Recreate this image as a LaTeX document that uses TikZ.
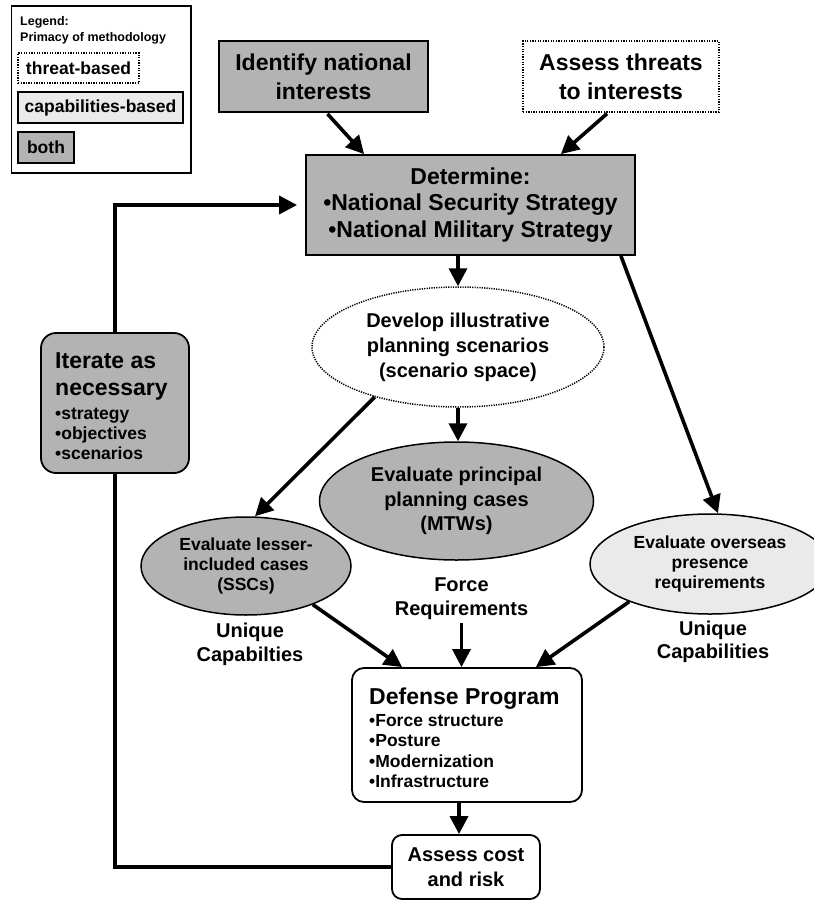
\documentclass[tikz,border=0pt]{standalone}
\usepackage{fontspec}
\setmainfont{Liberation Sans}
\usetikzlibrary{shapes.geometric,arrows.meta,calc}
\definecolor{gfill}{HTML}{B3B3B3}
\definecolor{lfill}{HTML}{EAEAEA}
\begin{document}
\begin{tikzpicture}[x=1pt,y=-1pt,
  fA/.style={font=\fontsize{23}{28}\selectfont\bfseries},
  fM/.style={font=\fontsize{20}{24.5}\selectfont\bfseries},
  fB/.style={font=\fontsize{17.5}{20}\selectfont\bfseries},
  fS/.style={font=\fontsize{12.5}{15}\selectfont\bfseries},
  box/.style={draw, line width=1.8pt, inner sep=0pt, align=center},
  gbox/.style={box, fill=gfill},
  lbox/.style={box, fill=lfill},
  dotbox/.style={draw, line width=1.3pt, dash pattern=on 1.3pt off 1.3pt, fill=white, inner sep=0pt, align=center},
  rbox/.style={box, fill=white, rounded corners=12pt},
  ell/.style={ellipse, draw, line width=1.5pt, inner sep=0pt, align=center},
  arr/.style={line width=3.6pt, -{Triangle[length=18pt,width=18pt]}},
  loopline/.style={line width=3.6pt}
]
\useasboundingbox (0,0) rectangle (814,900);
\fill[white] (0,0) rectangle (814,900);

% legend
\node[draw, line width=1.8pt, minimum width=179.5, minimum height=167, anchor=north west, inner sep=0pt] (leg) at (10.5,5) {};
\node[fS, anchor=base west, inner sep=0pt] (lg1) at (20,25.5) {Legend:};
\node[fS, anchor=base west, inner sep=0pt] (lg2) at (20,41.5) {Primacy of methodology};
\node[dotbox, fB, minimum width=121, minimum height=30] (lgt) at (78.5,68) {threat-based};
\node[lbox, fB, minimum width=165, minimum height=31] (lgc) at (100.5,107.5) {capabilities-based};
\node[gbox, fB, minimum width=56, minimum height=31] (lgb) at (46,147.5) {both};

% top boxes
\node[gbox, fA, font=\fontsize{23}{29}\selectfont\bfseries, minimum width=209, minimum height=71] (idn) at (323.5,76.5) {Identify national\\interests};
\node[dotbox, font=\fontsize{23}{29}\selectfont\bfseries, minimum width=196, minimum height=71] (thr) at (621,76.5) {Assess threats\\to interests};
\node[gbox, font=\fontsize{23}{26.5}\selectfont\bfseries, minimum width=329, minimum height=100] (det) at (470.5,205) {Determine:\\•National Security Strategy\\•National Military Strategy};

% ellipses
\node[ell, dash pattern=on 1.2pt off 1.2pt, fill=white, fM, font=\fontsize{20}{25}\selectfont\bfseries, minimum width=292, minimum height=120] (scen) at (458,347) {Develop illustrative\\planning scenarios\\(scenario space)};
\node[ell, fill=gfill, fM, minimum width=274, minimum height=118] (prin) at (456.5,501) {Evaluate principal\\planning cases\\(MTWs)};
\node[ell, fill=gfill, fB, minimum width=210, minimum height=98] (ssc) at (246,566) {Evaluate lesser-\\included cases\\(SSCs)};
\node[ell, fill=lfill, fB, minimum width=240, minimum height=100] (ovs) at (710,564) {Evaluate overseas\\presence\\requirements};

% labels
\node[fM, align=center, font=\fontsize{20}{24}\selectfont\bfseries, inner sep=3pt] (force) at (461.5,599) {Force\\Requirements};
\node[fM, align=center, font=\fontsize{20}{23.5}\selectfont\bfseries] (uq1) at (250,644.5) {Unique\\Capabilties};
\node[fM, align=center, font=\fontsize{20}{23.5}\selectfont\bfseries] (uq2) at (713,642) {Unique\\Capabilities};

% defense program
\node[rbox, minimum width=230, minimum height=134] (def) at (467,735) {};
\node[fA, anchor=base west, inner sep=0pt] (d1) at (369,704) {Defense Program};
\node[fB, anchor=base west, inner sep=0pt] (d2) at (369,726) {•Force structure};
\node[fB, anchor=base west, inner sep=0pt] (d3) at (369,746.5) {•Posture};
\node[fB, anchor=base west, inner sep=0pt] (d4) at (369,767) {•Modernization};
\node[fB, anchor=base west, inner sep=0pt] (d5) at (369,787.5) {•Infrastructure};

% assess cost
\node[rbox, rounded corners=10pt, fM, font=\fontsize{20}{25}\selectfont\bfseries, minimum width=148, minimum height=64] (cost) at (466,867) {Assess cost\\and risk};

% loop
\draw[loopline] (cost.west) -- (cost.west -| 115,0) -- (115,473);
\draw[arr, shorten >=8pt] (115,333) |- (det.west);
\node[box, fill=gfill, rounded corners=15pt, minimum width=148, minimum height=140] (iter) at (115,403) {};
\node[fA, anchor=base west, inner sep=0pt] (i1) at (55,368) {Iterate as};
\node[fA, anchor=base west, inner sep=0pt] (i2) at (55,395) {necessary};
\node[fB, anchor=base west, inner sep=0pt] (i3) at (55,419) {•strategy};
\node[fB, anchor=base west, inner sep=0pt] (i4) at (55,439) {•objectives};
\node[fB, anchor=base west, inner sep=0pt] (i5) at (55,459) {•scenarios};

% arrows
\draw[arr] ($(idn.south)+(4,1)$) -- ($(det.north west)+(59,0)$);
\draw[arr] ($(thr.south)+(-14,1)$) -- ($(det.north east)+(-75,0)$);
\draw[arr] (scen.north |- det.south) -- (scen.north);
\draw[arr] ($(det.south east)+(-15,0)$) -- ($(ovs.north)+(8,0)$);
\draw[arr] (scen.south) -- (scen.south |- prin.north);
\draw[arr] (scen.211) -- ($(ssc.north)+(9,0)$);
\draw[arr] (ssc.-30) -- ($(def.north west)+(51,0)$);
\draw[arr] (force.south) -- (force.south |- def.north);
\draw[arr] (ovs.205) -- ($(def.north east)+(-47,0)$);
\draw[arr] ($(def.south)+(-8,0)$) -- ($(cost.north)+(-7,0)$);
\end{tikzpicture}
\end{document}
